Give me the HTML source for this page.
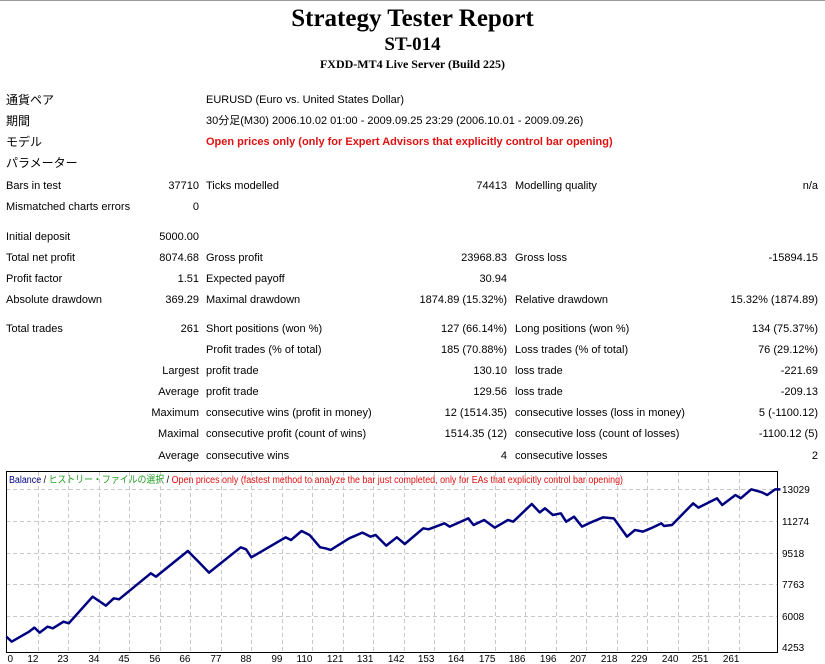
<!DOCTYPE html>
<html><head><meta charset="utf-8"><style>
body{margin:0;width:825px;height:664px;background:#fff;position:relative;overflow:hidden;font-family:"Liberation Sans","Noto Sans CJK JP",sans-serif;font-size:11px;color:#000}
.t{position:absolute;white-space:nowrap;line-height:13px}
.r{text-align:right}
.h{position:absolute;left:0;width:825px;text-align:center;font-family:"Liberation Serif",serif;font-weight:bold;white-space:nowrap}
</style></head><body>
<div style="position:absolute;left:0;top:0;width:825px;height:1px;background:#999"></div>
<div class="h" style="top:4px;font-size:25px;line-height:30px">Strategy Tester Report</div>
<div class="h" style="top:34px;font-size:19px;line-height:22px">ST-014</div>
<div class="h" style="top:57px;font-size:12px;line-height:15px">FXDD-MT4 Live Server (Build 225)</div>

<div class="t" style="left:6px;top:94px;font-size:12px">通貨ペア</div>
<div class="t" style="left:206px;top:94px">EURUSD (Euro vs. United States Dollar)</div>
<div class="t" style="left:6px;top:115px;font-size:12px">期間</div>
<div class="t" style="left:206px;top:115px">30分足(M30) 2006.10.02 01:00 - 2009.09.25 23:29 (2006.10.01 - 2009.09.26)</div>
<div class="t" style="left:6px;top:136px;font-size:12px">モデル</div>
<div class="t" style="left:206px;top:136px;color:#e01010;font-weight:bold">Open prices only (only for Expert Advisors that explicitly control bar opening)</div>
<div class="t" style="left:6px;top:157px;font-size:12px">パラメーター</div>

<div class="t" style="left:6px;top:180px">Bars in test</div>
<div class="t r" style="left:100px;width:99px;top:180px">37710</div>
<div class="t" style="left:206px;top:180px">Ticks modelled</div>
<div class="t r" style="left:400px;width:107px;top:180px">74413</div>
<div class="t" style="left:515px;top:180px">Modelling quality</div>
<div class="t r" style="left:700px;width:118px;top:180px">n/a</div>

<div class="t" style="left:6px;top:201px">Mismatched charts errors</div>
<div class="t r" style="left:100px;width:99px;top:201px">0</div>

<div class="t" style="left:6px;top:231px">Initial deposit</div>
<div class="t r" style="left:100px;width:99px;top:231px">5000.00</div>

<div class="t" style="left:6px;top:252px">Total net profit</div>
<div class="t r" style="left:100px;width:99px;top:252px">8074.68</div>
<div class="t" style="left:206px;top:252px">Gross profit</div>
<div class="t r" style="left:400px;width:107px;top:252px">23968.83</div>
<div class="t" style="left:515px;top:252px">Gross loss</div>
<div class="t r" style="left:700px;width:118px;top:252px">-15894.15</div>

<div class="t" style="left:6px;top:273px">Profit factor</div>
<div class="t r" style="left:100px;width:99px;top:273px">1.51</div>
<div class="t" style="left:206px;top:273px">Expected payoff</div>
<div class="t r" style="left:400px;width:107px;top:273px">30.94</div>

<div class="t" style="left:6px;top:294px">Absolute drawdown</div>
<div class="t r" style="left:100px;width:99px;top:294px">369.29</div>
<div class="t" style="left:206px;top:294px">Maximal drawdown</div>
<div class="t r" style="left:350px;width:157px;top:294px">1874.89 (15.32%)</div>
<div class="t" style="left:515px;top:294px">Relative drawdown</div>
<div class="t r" style="left:650px;width:168px;top:294px">15.32% (1874.89)</div>

<div class="t" style="left:6px;top:323px">Total trades</div>
<div class="t r" style="left:100px;width:99px;top:323px">261</div>
<div class="t" style="left:206px;top:323px">Short positions (won %)</div>
<div class="t r" style="left:350px;width:157px;top:323px">127 (66.14%)</div>
<div class="t" style="left:515px;top:323px">Long positions (won %)</div>
<div class="t r" style="left:650px;width:168px;top:323px">134 (75.37%)</div>

<div class="t" style="left:206px;top:344px">Profit trades (% of total)</div>
<div class="t r" style="left:350px;width:157px;top:344px">185 (70.88%)</div>
<div class="t" style="left:515px;top:344px">Loss trades (% of total)</div>
<div class="t r" style="left:650px;width:168px;top:344px">76 (29.12%)</div>

<div class="t r" style="left:50px;width:149px;top:365px">Largest</div>
<div class="t" style="left:206px;top:365px">profit trade</div>
<div class="t r" style="left:400px;width:107px;top:365px">130.10</div>
<div class="t" style="left:515px;top:365px">loss trade</div>
<div class="t r" style="left:700px;width:118px;top:365px">-221.69</div>

<div class="t r" style="left:50px;width:149px;top:386px">Average</div>
<div class="t" style="left:206px;top:386px">profit trade</div>
<div class="t r" style="left:400px;width:107px;top:386px">129.56</div>
<div class="t" style="left:515px;top:386px">loss trade</div>
<div class="t r" style="left:700px;width:118px;top:386px">-209.13</div>

<div class="t r" style="left:50px;width:149px;top:407px">Maximum</div>
<div class="t" style="left:206px;top:407px">consecutive wins (profit in money)</div>
<div class="t r" style="left:350px;width:157px;top:407px">12 (1514.35)</div>
<div class="t" style="left:515px;top:407px">consecutive losses (loss in money)</div>
<div class="t r" style="left:650px;width:168px;top:407px">5 (-1100.12)</div>

<div class="t r" style="left:50px;width:149px;top:428px">Maximal</div>
<div class="t" style="left:206px;top:428px">consecutive profit (count of wins)</div>
<div class="t r" style="left:350px;width:157px;top:428px">1514.35 (12)</div>
<div class="t" style="left:515px;top:428px">consecutive loss (count of losses)</div>
<div class="t r" style="left:650px;width:168px;top:428px">-1100.12 (5)</div>

<div class="t r" style="left:50px;width:149px;top:450px">Average</div>
<div class="t" style="left:206px;top:450px">consecutive wins</div>
<div class="t r" style="left:400px;width:107px;top:450px">4</div>
<div class="t" style="left:515px;top:450px">consecutive losses</div>
<div class="t r" style="left:700px;width:118px;top:450px">2</div>

<svg width="825" height="664" style="position:absolute;left:0;top:0" xmlns="http://www.w3.org/2000/svg">
<g stroke="#c8c8c8" stroke-dasharray="4,3" stroke-width="1">
<line x1="6" x2="777" y1="489.5" y2="489.5"/><line x1="6" x2="777" y1="521.5" y2="521.5"/><line x1="6" x2="777" y1="553.5" y2="553.5"/><line x1="6" x2="777" y1="584.5" y2="584.5"/><line x1="6" x2="777" y1="616.5" y2="616.5"/>
<g id="vg"></g>
</g>
<rect x="6.5" y="471.5" width="771" height="181" fill="none" stroke="#000"/>
<g transform="translate(0,460) scale(0.5291,0.3333)">
<polyline fill="none" stroke="#000080" stroke-width="2.5" vector-effect="non-scaling-stroke" stroke-linejoin="round" points="12,530 22,545 55,515 65,503 75,518 90,500 100,505 120,485 130,490 175,410 200,437 215,415 225,418 285,340 295,350 355,273 375,305 395,338 455,262 465,268 475,292 540,232 550,240 570,213 585,225 605,262 615,265 625,270 660,235 685,218 700,230 710,225 730,257 750,232 765,252 800,205 810,208 840,190 850,200 885,175 895,195 915,180 935,203 960,180 970,185 1005,132 1020,157 1030,145 1045,165 1060,160 1070,185 1085,170 1100,200 1120,185 1140,172 1160,175 1185,230 1200,210 1215,215 1230,205 1250,190 1255,198 1270,195 1310,130 1320,143 1355,115 1365,135 1390,105 1400,115 1420,88 1440,97 1450,105 1465,88 1475,88"/>
</g>
<g font-family="Liberation Sans, sans-serif" font-size="10" fill="#000">
<text x="782" y="493">13029</text><text x="782" y="525">11274</text><text x="782" y="557">9518</text><text x="782" y="588">7763</text><text x="782" y="620">6008</text><text x="782" y="651">4253</text>
<g id="xl" text-anchor="end"></g>
</g>
<text x="9" y="483" font-family="Liberation Sans, 'Noto Sans CJK JP', sans-serif" font-size="10" textLength="614" lengthAdjust="spacingAndGlyphs"><tspan fill="#000080">Balance</tspan><tspan fill="#000"> / </tspan><tspan fill="#20a020">ヒストリー・ファイルの選択</tspan><tspan fill="#000"> / </tspan><tspan fill="#e01010">Open prices only (fastest method to analyze the bar just completed, only for EAs that explicitly control bar opening)</tspan></text>
</svg>
<script>
var vg=document.getElementById('vg'),xl=document.getElementById('xl'),ns='http://www.w3.org/2000/svg';
var labs=[12,23,34,45,56,66,77,88,99,110,121,131,142,153,164,175,186,196,207,218,229,240,251,261];
for(var k=0;k<24;k++){var x=Math.round(38+30.46*k)+.5;var l=document.createElementNS(ns,'line');l.setAttribute('x1',x);l.setAttribute('x2',x);l.setAttribute('y1',472);l.setAttribute('y2',652);vg.appendChild(l);
var t=document.createElementNS(ns,'text');t.setAttribute('x',x);t.setAttribute('y',662);t.textContent=labs[k];xl.appendChild(t);}
var t0=document.createElementNS(ns,'text');t0.setAttribute('x',13);t0.setAttribute('y',662);t0.textContent='0';xl.appendChild(t0);
</script>
</body></html>
